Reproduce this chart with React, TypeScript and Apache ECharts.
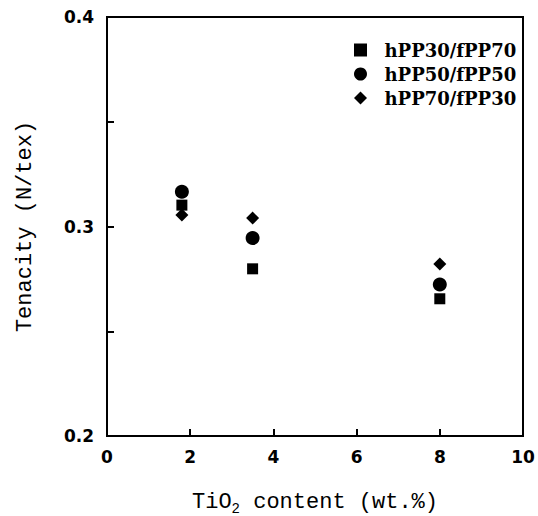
import React, { useEffect, useRef } from "react";
import * as echarts from "echarts";

const seriesNames = ["hPP30/fPP70", "hPP50/fPP50", "hPP70/fPP30"];
const xValues = [1.8, 3.5, 8.0];
const hPP30 = [0.3102, 0.2798, 0.2655];
const hPP50 = [0.3166, 0.2945, 0.2723];
const hPP70 = [0.3055, 0.304, 0.2821];
const symbols = ["rect", "circle", "diamond"];
const symbolSizes = [11, 14, 13];
const yLabels = [0.2, 0.3, 0.4];

export default function App() {
  const ref = useRef<HTMLDivElement>(null);
  useEffect(() => {
    if (!ref.current) return;
    const chart = echarts.init(ref.current, undefined, { renderer: "svg" });
    const all = [hPP30, hPP50, hPP70];
    chart.setOption({
      animation: false,
      backgroundColor: "#fff",
      grid: {
        left: 107,
        right: 15,
        top: 17,
        bottom: 80,
        show: true,
        borderColor: "#000",
        borderWidth: 2,
        outerBoundsMode: "none",
      },
      legend: {
        orient: "vertical",
        left: 349,
        top: 36,
        itemGap: 6,
        itemWidth: 13,
        itemHeight: 13,
        formatter: (n: string) => "  " + n,
        textStyle: {
          fontFamily: "DejaVu Serif",
          fontWeight: "bold",
          fontSize: 18,
          lineHeight: 18,
          color: "#000",
        },
        data: seriesNames.map((n, i) => ({ name: n, icon: symbols[i] })),
      },
      xAxis: {
        type: "value",
        min: 0,
        max: 10,
        interval: 2,
        name: "{a|TiO}{sub|2}{a| content (wt.%)}",
        nameLocation: "middle",
        nameGap: 52,
        nameTextStyle: {
          rich: {
            a: { fontFamily: "Liberation Mono", fontSize: 22, lineHeight: 28, color: "#000" },
            sub: { fontFamily: "Liberation Mono", fontSize: 14, lineHeight: 14, color: "#000", verticalAlign: "bottom" },
          },
        },
        axisLine: { show: true, lineStyle: { color: "#000", width: 2 } },
        axisTick: { show: true, inside: true, length: 7, lineStyle: { color: "#000", width: 2 } },
        axisLabel: { fontFamily: "DejaVu Sans", fontWeight: "bold", fontSize: 17, color: "#000", margin: 12 },
        splitLine: { show: false },
      },
      yAxis: {
        type: "value",
        min: 0.2,
        max: 0.4,
        interval: 0.05,
        name: "Tenacity (N/tex)",
        nameLocation: "middle",
        nameGap: 71,
        nameTextStyle: { fontFamily: "Liberation Mono", fontSize: 22, color: "#000" },
        axisLine: { show: true, lineStyle: { color: "#000", width: 2 } },
        axisTick: { show: true, inside: true, length: 7, lineStyle: { color: "#000", width: 2 } },
        axisLabel: {
          fontFamily: "DejaVu Sans",
          fontWeight: "bold",
          fontSize: 17,
          color: "#000",
          margin: 13,
          formatter: (v: number) => {
            const m = yLabels.find((l) => Math.abs(l - v) < 1e-6);
            return m !== undefined ? m.toFixed(1) : "";
          },
        },
        splitLine: { show: false },
      },
      series: seriesNames.map((n, i) => ({
        name: n,
        type: "scatter",
        symbol: symbols[i],
        symbolSize: symbolSizes[i],
        itemStyle: { color: "#000", opacity: 1 },
        data: xValues.map((x, j) => [x, all[i][j]]),
        z: 3 - i,
      })),
    });
    return () => chart.dispose();
  }, []);
  return (
    <div
      ref={ref}
      style={{ position: "fixed", left: 0, top: 0, width: 538, height: 516, background: "#fff" }}
    />
  );
}
